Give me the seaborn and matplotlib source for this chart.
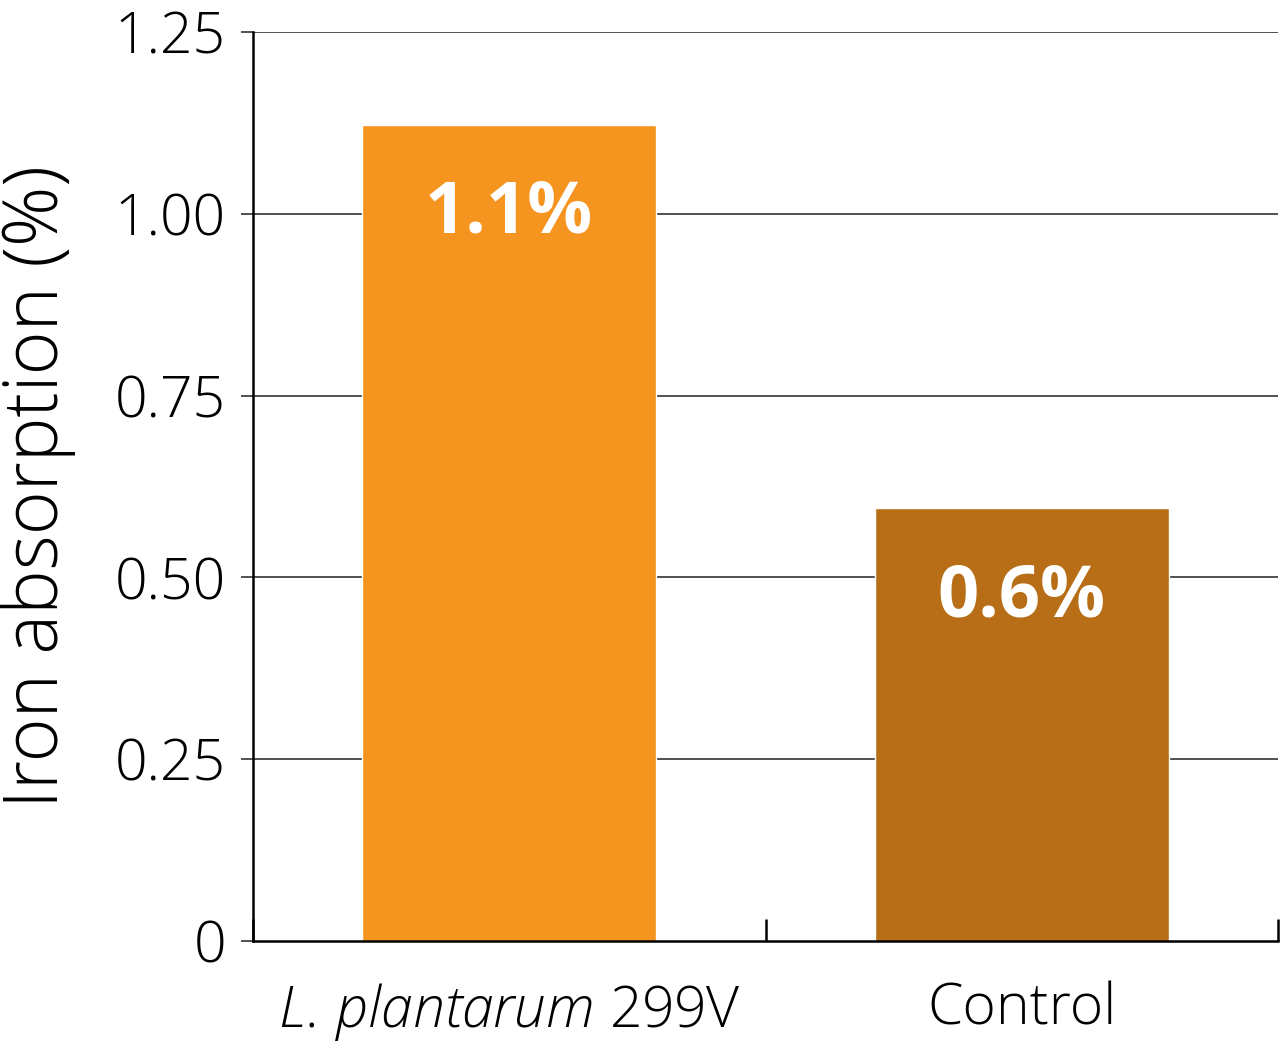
import matplotlib
matplotlib.use("Agg")
import matplotlib.pyplot as plt
import seaborn as sns
import pandas as pd

categories = ["L. plantarum 299V", "Control"]
values = [1.122, 0.595]
bar_labels = ["1.1%", "0.6%"]
colors = ["#F5951F", "#B86E17"]
yticks = [0, 0.25, 0.5, 0.75, 1.0, 1.25]
ytick_labels = ["0", "0.25", "0.50", "0.75", "1.00", "1.25"]
xtick_labels = [r"$\mathit{L.\!\ plantarum}$ 299V", "Control"]

sns.set_style("white")
plt.rcParams["font.family"] = ["Open Sans", "DejaVu Sans"]
plt.rcParams["text.color"] = "black"
plt.rcParams["axes.labelcolor"] = "black"
plt.rcParams["xtick.color"] = "black"
plt.rcParams["ytick.color"] = "black"
plt.rcParams["mathtext.fontset"] = "custom"
plt.rcParams["mathtext.it"] = "Open Sans:italic:light"
plt.rcParams["mathtext.rm"] = "Open Sans:light"

df = pd.DataFrame({"group": categories, "value": values})

fig = plt.figure(figsize=(12.8, 10.42), dpi=100)
ax = fig.add_axes([253 / 1280, 1 - 941 / 1042, 1025 / 1280, 909 / 1042])

sns.barplot(data=df, x="group", y="value", hue="group", palette=colors,
            width=0.574, saturation=1, legend=False, ax=ax, zorder=3)

ax.set_xlim(-0.5, 1.5)
ax.set_ylim(0, 1.25)
ax.set_yticks(yticks)
ax.set_yticklabels(ytick_labels, fontsize=41, fontweight="light")
ax.set_xticks([0, 1])
ax.set_xticklabels(xtick_labels, fontsize=41, fontweight="light")
ax.set_xticks([-0.5, 0.5, 1.5], minor=True)

for y in yticks[1:]:
    ax.axhline(y, color="#222222", lw=1.1, zorder=1)

ax.tick_params(axis="y", which="major", direction="out", length=8.6, width=1.1,
               color="#222222", pad=11, left=True)
ax.tick_params(axis="x", which="major", length=0, pad=29)
ax.tick_params(axis="x", which="minor", direction="in", length=15.5, width=1.8,
               color="black", bottom=True)

for s in ["top", "right"]:
    ax.spines[s].set_visible(False)
for s in ["left", "bottom"]:
    ax.spines[s].set_color("black")
    ax.spines[s].set_linewidth(1.8)
    ax.spines[s].set_zorder(4)

for i, (v, lab) in enumerate(zip(values, bar_labels)):
    ax.text(i, v - 0.122, lab, ha="center", va="center", color="white",
            fontsize=52, fontweight="bold", zorder=5)

ax.set_xlabel("")
ax.set_ylabel("Iron absorption (%)", fontsize=54, fontweight="light", labelpad=28)

fig.savefig("out.png", dpi=100)
